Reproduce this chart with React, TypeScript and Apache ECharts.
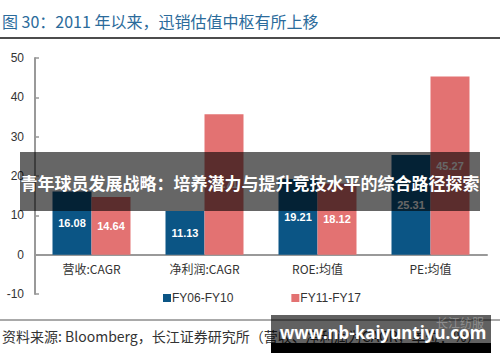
import React, { useEffect, useRef } from "react";
import * as echarts from "echarts";

const categories = ["营收:CAGR", "净利润:CAGR", "ROE:均值", "PE:均值"];
const seriesNames = ["FY06-FY10", "FY11-FY17"];
const fy0610 = [16.08, 11.13, 19.21, 25.31];
const fy1117 = [14.64, 35.71, 18.12, 45.27];
const titleText = "图 30：2011 年以来，迅销估值中枢有所上移";
const sourceText = "资料来源: Bloomberg，长江证券研究所（营收、净利润为CAGR，单位：%）";
const bannerText = "青年球员发展战略：培养潜力与提升竞技水平的综合路径探索";
const watermarkText = "www.nb-kaiyuntiyu.com";
const logoText = "长江纺服";

const FONT = "'Noto Sans CJK SC', 'Liberation Sans', sans-serif";
const Y_MIN = -10;
const Y_MAX = 50;
const GRID_TOP = 58;
const GRID_BOTTOM = 68;

export default function App() {
  const ref = useRef<HTMLDivElement>(null);
  useEffect(() => {
    if (!ref.current) return;
    const chart = echarts.init(ref.current, undefined, { renderer: "svg" });
    const plotH = 362 - GRID_TOP - GRID_BOTTOM;
    const zeroOffset = -((0 - Y_MIN) / (Y_MAX - Y_MIN)) * plotH;
    chart.setOption({
      animation: false,
      backgroundColor: "#ffffff",
      textStyle: { fontFamily: FONT },
      grid: { left: 35, right: 13, top: GRID_TOP, bottom: GRID_BOTTOM, containLabel: false },
      legend: {
        left: 158,
        top: 287,
        itemWidth: 8,
        itemHeight: 8,
        itemGap: 58,
        icon: "rect",
        textStyle: { fontSize: 12, color: "#333", fontFamily: "'Liberation Sans', sans-serif", padding: [0, 0, 0, -4] },
        data: seriesNames,
      },
      xAxis: {
        type: "category",
        data: categories,
        offset: zeroOffset,
        axisLine: { onZero: false, lineStyle: { color: "#999", width: 2 } },
        axisTick: { show: false },
        axisLabel: { color: "#333", fontSize: 12, margin: 8 },
      },
      yAxis: {
        type: "value",
        min: Y_MIN,
        max: Y_MAX,
        interval: 10,
        axisLine: { show: true, lineStyle: { color: "#999", width: 2 } },
        axisTick: { show: true, inside: true, length: 4, lineStyle: { color: "#999", width: 1.5 } },
        splitLine: { show: false },
        axisLabel: { color: "#333", fontSize: 12, margin: 11, fontFamily: "'Liberation Sans', sans-serif" },
      },
      series: [
        {
          name: seriesNames[0],
          type: "bar",
          data: fy0610,
          barWidth: 39,
          barGap: "0%",
          itemStyle: { color: "#0B5585" },
          label: {
            show: true,
            position: "inside",
            color: "#fff",
            fontWeight: "bold",
            fontSize: 11,
            fontFamily: "'Liberation Sans', sans-serif",
            formatter: (p: any) => p.value.toFixed(2),
          },
        },
        {
          name: seriesNames[1],
          type: "bar",
          data: fy1117,
          barWidth: 39,
          barGap: "0%",
          itemStyle: { color: "#E37272" },
          label: {
            show: true,
            position: "inside",
            color: "#fff",
            fontWeight: "bold",
            fontSize: 11,
            fontFamily: "'Liberation Sans', sans-serif",
            formatter: (p: any) => p.value.toFixed(2),
          },
        },
      ],
      graphic: [
        {
          type: "text",
          left: 2,
          top: 13,
          z: 100,
          style: { text: titleText, fontSize: 16, fill: "#2B6B9B", fontFamily: FONT },
        },
        {
          type: "line",
          z: 100,
          shape: { x1: 0, y1: 38, x2: 500, y2: 38 },
          style: { stroke: "#111", lineWidth: 1.5 },
        },
        {
          type: "line",
          z: 100,
          shape: { x1: 0, y1: 320, x2: 500, y2: 320 },
          style: { stroke: "#555", lineWidth: 1 },
        },
        {
          type: "text",
          left: 2,
          top: 329,
          z: 100,
          style: { text: sourceText, fontSize: 14, fill: "#333", fontFamily: FONT },
        },
        {
          type: "rect",
          z: 110,
          shape: { x: 20, y: 152, width: 460, height: 59 },
          style: { fill: "rgba(0,0,0,0.6)" },
        },
        {
          type: "text",
          z: 111,
          x: 250,
          y: 182,
          style: {
            text: bannerText,
            fontSize: 17,
            fontWeight: "bold",
            fill: "#fff",
            align: "center",
            verticalAlign: "middle",
            fontFamily: FONT,
          },
        },
        {
          type: "rect",
          z: 110,
          shape: { x: 271, y: 315, width: 220, height: 29 },
          style: { fill: "rgba(0,0,0,0.62)" },
        },
        {
          type: "rect",
          z: 110,
          shape: { x: 271, y: 343, width: 220, height: 10 },
          style: { fill: "#000" },
        },
        {
          type: "text",
          z: 111,
          x: 460,
          y: 322,
          style: {
            text: logoText,
            fontSize: 12,
            fill: "rgba(255,255,255,0.3)",
            align: "center",
            verticalAlign: "middle",
            fontFamily: FONT,
          },
        },
        {
          type: "text",
          z: 112,
          x: 383,
          y: 332,
          style: {
            text: watermarkText,
            fontSize: 17,
            fontWeight: "bold",
            fill: "#fff",
            align: "center",
            verticalAlign: "middle",
            fontFamily: "'Noto Sans', 'DejaVu Sans', sans-serif",
          },
        },
      ],
    });
    return () => chart.dispose();
  }, []);
  return (
    <div
      ref={ref}
      style={{ position: "fixed", left: 0, top: 0, width: 500, height: 362 }}
    />
  );
}
